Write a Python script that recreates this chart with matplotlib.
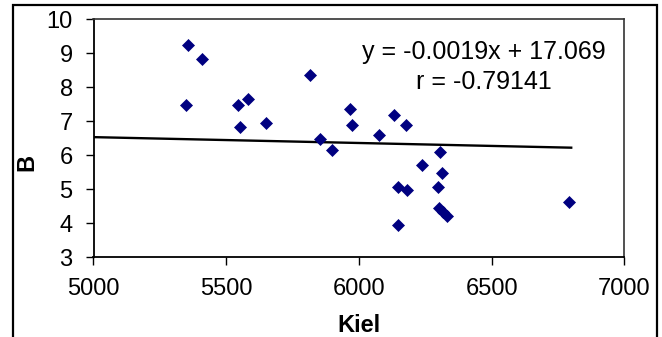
import matplotlib
matplotlib.use("Agg")
import matplotlib.pyplot as plt
from matplotlib.patches import Rectangle

plt.rcParams['font.family'] = ['Liberation Sans', 'DejaVu Sans']

# Data
kiel = [5357, 5409, 5817, 5350, 5543, 5582, 5553, 5650, 5966, 5975,
        6133, 6179, 6074, 5855, 5900, 6306, 6239, 6314, 6148, 6180,
        6299, 6302, 6317, 6332, 6148, 6793]
b_vals = [9.24, 8.82, 8.35, 7.46, 7.47, 7.65, 6.82, 6.94, 7.35, 6.88,
          7.17, 6.88, 6.58, 6.48, 6.16, 6.09, 5.71, 5.47, 5.06, 4.98,
          5.06, 4.45, 4.33, 4.21, 3.95, 4.63]
trend_x = [5000, 6800]
trend_y = [6.53, 6.22]
x_ticks = [5000, 5500, 6000, 6500, 7000]
y_ticks = [3, 4, 5, 6, 7, 8, 9, 10]
eq_line1 = "y = -0.0019x + 17.069"
eq_line2 = "r = -0.79141"

W, H = 662, 337
fig = plt.figure(figsize=(W / 100, H / 100), dpi=100)
ax = fig.add_axes([93.5 / W, 1 - 257.3 / H, (624.3 - 93.5) / W, (257.3 - 19) / H])

ax.plot(trend_x, trend_y, color='black', lw=1.7, zorder=2)
ax.plot(kiel, b_vals, linestyle='none', marker='D', ms=6.5,
        color='#000080', mec='#000080', mew=0.5, zorder=3)

ax.set_xlim(5000, 7000)
ax.set_ylim(3, 10)
ax.set_xticks(x_ticks)
ax.set_yticks(y_ticks)
ax.tick_params(axis='both', direction='out', length=6, width=1.0,
               labelsize=17, colors='black')
ax.tick_params(axis='x', pad=9)
ax.tick_params(axis='y', pad=9)

for side in ['left', 'bottom']:
    ax.spines[side].set_linewidth(1.3)
    ax.spines[side].set_color('black')
for side in ['top', 'right']:
    ax.spines[side].set_linewidth(1.2)
    ax.spines[side].set_color('#333333')

ax.set_xlabel('Kiel', fontsize=17, fontweight='bold')
ax.set_ylabel('B', fontsize=17, fontweight='bold')
ax.xaxis.set_label_coords(0.5, -0.238)
ax.yaxis.set_label_coords(-0.104, 0.40)

ax.text(0.7357, 0.8615, eq_line1, transform=ax.transAxes, ha='center',
        va='center', fontsize=18)
ax.text(0.7357, 0.7356, eq_line2, transform=ax.transAxes, ha='center',
        va='center', fontsize=18)

# outer chart frame (bottom edge lies outside the image)
fig.patches.append(Rectangle((13 / W, -0.1), (656.5 - 13) / W, 1.1 - 5 / H,
                             transform=fig.transFigure, fill=False,
                             edgecolor='black', lw=1.6))

fig.savefig('out.png', dpi=100)
